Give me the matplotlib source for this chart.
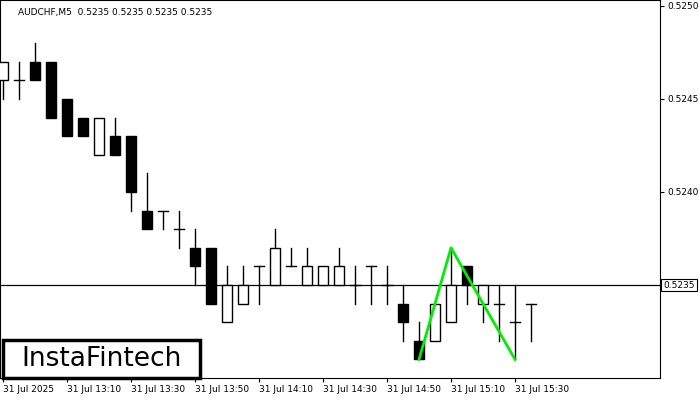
import matplotlib
matplotlib.use("Agg")
import matplotlib.pyplot as plt
from matplotlib.patches import Rectangle

# ── data: AUDCHF M5 candles (open, high, low, close) ──
opens  = [.5246, .5246, .5247, .5247, .5245, .5244, .5242, .5243, .5243, .5239,
          .5239, .5238, .5237, .5237, .5233, .5234, .5236, .5235, .5236, .5235,
          .5235, .5235, .5235, .5236, .5235, .5234, .5232, .5232, .5233, .5236,
          .5234, .5234, .5233, .5234]
highs  = [.5247, .5247, .5248, .5247, .5245, .5244, .5244, .5244, .5243, .5241,
          .5239, .5239, .5238, .5237, .5236, .5236, .5236, .5238, .5237, .5237,
          .5236, .5237, .5236, .5236, .5236, .5235, .5233, .5234, .5237, .5236,
          .5235, .5235, .5235, .5234]
lows   = [.5245, .5245, .5246, .5244, .5243, .5243, .5242, .5242, .5239, .5238,
          .5238, .5237, .5235, .5234, .5233, .5234, .5234, .5235, .5236, .5235,
          .5235, .5235, .5234, .5234, .5234, .5232, .5231, .5232, .5233, .5234,
          .5233, .5232, .5231, .5232]
closes = [.5247, .5246, .5246, .5244, .5243, .5243, .5244, .5242, .5240, .5238,
          .5239, .5238, .5236, .5234, .5235, .5235, .5236, .5237, .5236, .5236,
          .5236, .5236, .5235, .5236, .5235, .5233, .5231, .5234, .5235, .5235,
          .5235, .5234, .5233, .5234]

time_idx    = [0, 4, 8, 12, 16, 20, 24, 28, 32]
time_labels = ["31 Jul 2025", "31 Jul 13:10", "31 Jul 13:30", "31 Jul 13:50",
               "31 Jul 14:10", "31 Jul 14:30", "31 Jul 14:50", "31 Jul 15:10",
               "31 Jul 15:30"]
price_ticks = [0.5250, 0.5245, 0.5240]
current_price = 0.5235

# double top pattern points (candle index, price)
pattern_x = [26, 28, 32]
pattern_y = [.5231, .5237, .5231]

W, H = 700, 400
fig = plt.figure(figsize=(W / 100, H / 100), dpi=100)
ax = fig.add_axes([0, 22 / H, 660 / W, 378 / H])

bw = 0.62
for i, (o, h, l, c) in enumerate(zip(opens, highs, lows, closes)):
    top, bot = max(o, c), min(o, c)
    if h > top:
        ax.plot([i, i], [top, h], color="black", lw=1, zorder=2)
    if l < bot:
        ax.plot([i, i], [l, bot], color="black", lw=1, zorder=2)
    if abs(o - c) < 1e-7:
        ax.plot([i - bw / 2, i + bw / 2], [o, o], color="black", lw=1, zorder=2)
    else:
        face = "white" if c > o else "black"
        ax.add_patch(Rectangle((i - bw / 2, bot), bw, top - bot,
                               facecolor=face, edgecolor="black", lw=1, zorder=3))

ax.axhline(current_price, color="black", lw=0.9, zorder=1)
ax.plot(pattern_x, pattern_y, color="#00ee00", lw=2, zorder=4)

ax.set_xlim(-3 / 16, 657 / 16)
ax.set_ylim(0.5235 - 93 / 18.6 * 0.0001, 0.5235 + 285 / 18.6 * 0.0001)

ax.set_xticks(time_idx)
ax.set_xticklabels(time_labels, fontsize=6.5, ha="left")
ax.tick_params(axis="x", length=3, pad=2)

ax.yaxis.tick_right()
ax.set_yticks(price_ticks)
ax.set_yticklabels([f"{p:.4f}" for p in price_ticks], fontsize=6.5)
ax.tick_params(axis="y", length=3, pad=2)
ax.text(1.005, current_price, f"{current_price:.4f}", transform=ax.get_yaxis_transform(),
        fontsize=6.5, va="center", ha="left",
        bbox=dict(boxstyle="square,pad=0.2", facecolor="white", edgecolor="black", lw=0.8),
        zorder=5)
for s in ax.spines.values():
    s.set_linewidth(0.8)

ax.text(18 / 660, 1 - 12 / 378, "AUDCHF,M5  0.5235 0.5235 0.5235 0.5235",
        transform=ax.transAxes, fontsize=6.5, va="center", ha="left")

# logo box
fig.patches.append(Rectangle((3 / W, 22 / H), 197 / W, 38 / H, transform=fig.transFigure,
                             facecolor="white", edgecolor="black", lw=2.5, zorder=10))
fig.text(102 / W, 1 - 359 / H, "InstaFintech", fontsize=19, ha="center", va="center",
         zorder=11)

fig.savefig("out.png", dpi=100)
